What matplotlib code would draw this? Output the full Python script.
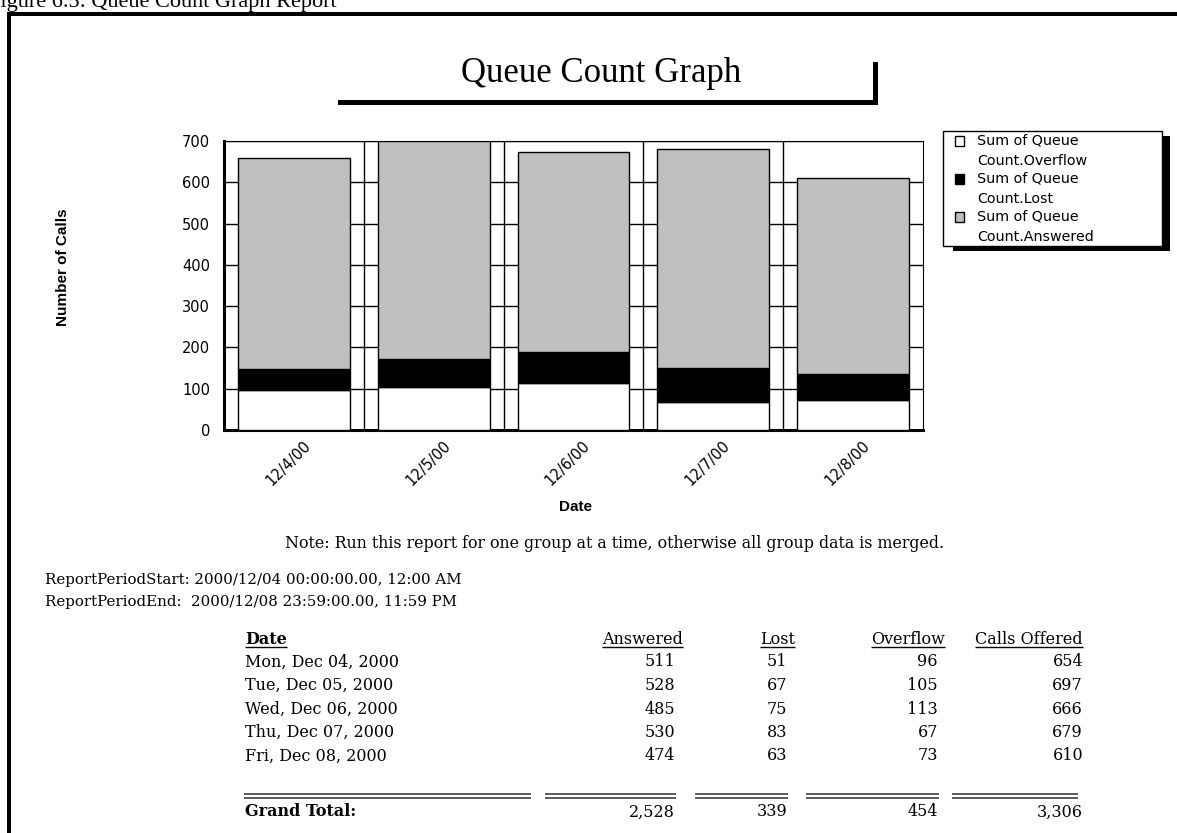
import matplotlib
matplotlib.use('Agg')

import matplotlib.pyplot as plt
import numpy as np
from matplotlib.patches import Rectangle
from matplotlib.lines import Line2D
from matplotlib.transforms import ScaledTranslation

# Data
dates = ["12/4/00", "12/5/00", "12/6/00", "12/7/00", "12/8/00"]
day_labels = ["Mon, Dec 04, 2000", "Tue, Dec 05, 2000", "Wed, Dec 06, 2000",
              "Thu, Dec 07, 2000", "Fri, Dec 08, 2000"]
answered = [511, 528, 485, 530, 474]
lost = [51, 67, 75, 83, 63]
overflow = [96, 105, 113, 67, 73]
offered = [654, 697, 666, 679, 610]
legend_labels = [("Sum of Queue", "Count.Overflow"),
                 ("Sum of Queue", "Count.Lost"),
                 ("Sum of Queue", "Count.Answered")]
legend_colors = ["white", "black", "#c0c0c0"]
headers = ["Answered", "Lost", "Overflow", "Calls Offered"]

W, H = 1177, 833
SERIF = "DejaVu Serif"
SANS = "DejaVu Sans"

fig = plt.figure(figsize=(W / 100, H / 100), dpi=100)


def fx(x):
    return x / W


def fy(y):
    return 1 - y / H


def block(x0, y0, x1, y1, **kw):
    # rectangle given in pixel coords measured from the top-left corner
    fig.add_artist(Rectangle((fx(x0), fy(y1)), (x1 - x0) / W, (y1 - y0) / H,
                             transform=fig.transFigure, **kw))


def hline(x0, x1, y, lw=1.0, color="black"):
    fig.add_artist(Line2D([fx(x0), fx(x1)], [fy(y), fy(y)], transform=fig.transFigure,
                          lw=lw, color=color, solid_capstyle="butt"))


# Page frame and cut-off caption (the reference crops its top)
block(7, 12, W + 5, 16, facecolor="black", lw=0)
block(7, 12, 11, H + 5, facecolor="black", lw=0)
fig.text(fx(-12), fy(7), "Figure 6.5: Queue Count Graph Report", family="Liberation Serif",
         fontsize=16, ha="left", va="baseline")

# Title with its underline bar
fig.text(fx(601), fy(74), "Queue Count Graph", family="Liberation Serif", fontsize=25,
         ha="center", va="center")
block(338, 100, 878, 105, facecolor="black", lw=0)
block(873, 62, 878, 105, facecolor="black", lw=0)

# Chart
ax = fig.add_axes([fx(224), fy(430), (923 - 224) / W, (430 - 141) / H])
x = np.arange(len(dates))
ov = np.array(overflow)
lo = np.array(lost)
an = np.array(answered)
ax.bar(x, ov, width=0.8, color="white", edgecolor="black", linewidth=1, zorder=3)
ax.bar(x, lo, width=0.8, bottom=ov, color="black", edgecolor="black", linewidth=1, zorder=3)
ax.bar(x, an, width=0.8, bottom=ov + lo, color="#c0c0c0", edgecolor="black", linewidth=1, zorder=3)

ax.set_xlim(-0.5, len(dates) - 0.5)
ax.set_ylim(0, 700)
ax.set_yticks(range(0, 701, 100))
ax.set_xticks(np.arange(0.5, len(dates) - 0.5, 1), minor=True)
ax.grid(axis="y", which="major", color="black", lw=1)
ax.grid(axis="x", which="minor", color="black", lw=1)
ax.set_axisbelow(True)
ax.tick_params(axis="both", which="both", length=0)
ax.tick_params(axis="y", pad=10)
for lab in ax.get_yticklabels():
    lab.set_family(SANS)
    lab.set_fontsize(10.5)

ax.set_xticks(x, dates, rotation=45, ha="right", va="top", rotation_mode="anchor",
              family=SANS, fontsize=10.5)
ax.tick_params(axis="x", pad=5.8)
shift = ScaledTranslation(9 / 100, 0, fig.dpi_scale_trans)
for lab in ax.get_xticklabels():
    lab.set_transform(lab.get_transform() + shift)

for side in ["left", "bottom"]:
    ax.spines[side].set_linewidth(2.2)
for side in ["top", "right"]:
    ax.spines[side].set_linewidth(0.8)

fig.text(fx(63), fy(267), "Number of Calls", family="Liberation Sans", weight="bold",
         fontsize=11, rotation=90, ha="center", va="center")
fig.text(fx(575), fy(507), "Date", family="Liberation Sans", weight="bold",
         fontsize=11, ha="center", va="center")

# Legend with drop shadow
block(953, 136, 1170, 251, facecolor="black", lw=0)
block(943, 131, 1162, 246, facecolor="white", edgecolor="black", lw=1)
for i, ((l1, l2), c) in enumerate(zip(legend_labels, legend_colors)):
    yc = 141 + 38 * i
    block(955, yc - 4.5, 964, yc + 4.5, facecolor=c, edgecolor="black", lw=1)
    fig.text(fx(977), fy(yc), l1, family=SANS, fontsize=10.3, ha="left", va="center")
    fig.text(fx(977), fy(yc + 20), l2, family=SANS, fontsize=10.3, ha="left", va="center")

# Notes under the chart
fig.text(fx(615), fy(543), "Note: Run this report for one group at a time, otherwise all group data is merged.",
         family=SERIF, fontsize=11.4, ha="center", va="center")
fig.text(fx(45), fy(580), "ReportPeriodStart: 2000/12/04 00:00:00.00, 12:00 AM",
         family=SERIF, fontsize=10.8, ha="left", va="center")
fig.text(fx(45), fy(602), "ReportPeriodEnd:  2000/12/08 23:59:00.00, 11:59 PM",
         family=SERIF, fontsize=10.8, ha="left", va="center")

# Table
TS = 11.5
value_right = [675, 787, 938, 1083]
header_right = [683, 795, 945, 1083]
header_y = 639
row_y = [662 + 23.5 * i for i in range(len(day_labels))]
total_y = 812

head_texts = [fig.text(fx(245), fy(header_y), "Date", family=SERIF, weight="bold",
                       fontsize=TS, ha="left", va="center")]
for h, xr in zip(headers, header_right):
    head_texts.append(fig.text(fx(xr), fy(header_y), h, family=SERIF, fontsize=TS,
                               ha="right", va="center"))

columns = [answered, lost, overflow, offered]
for i, (lab, y) in enumerate(zip(day_labels, row_y)):
    fig.text(fx(245), fy(y), lab, family=SERIF, fontsize=TS, ha="left", va="center")
    for col, xr in zip(columns, value_right):
        fig.text(fx(xr), fy(y), f"{col[i]:,}", family=SERIF, fontsize=TS, ha="right", va="center")

segments = [(244, 531), (545, 676), (695, 788), (806, 939), (952, 1078)]
for x0, x1 in segments:
    hline(x0, x1, 794, lw=1.1, color="#303030")
    hline(x0, x1, 798, lw=1.1, color="#303030")

fig.text(fx(245), fy(total_y), "Grand Total:", family=SERIF, weight="bold", fontsize=TS,
         ha="left", va="center")
for col, xr in zip(columns, value_right):
    fig.text(fx(xr), fy(total_y), f"{sum(col):,}", family=SERIF, fontsize=TS, ha="right", va="center")

# underline the column headers
fig.canvas.draw()
renderer = fig.canvas.get_renderer()
for t in head_texts:
    bb = t.get_window_extent(renderer)
    hline(bb.x0, bb.x1, 647, lw=1.0)

fig.savefig("out.png", dpi=100)
plt.close(fig)
